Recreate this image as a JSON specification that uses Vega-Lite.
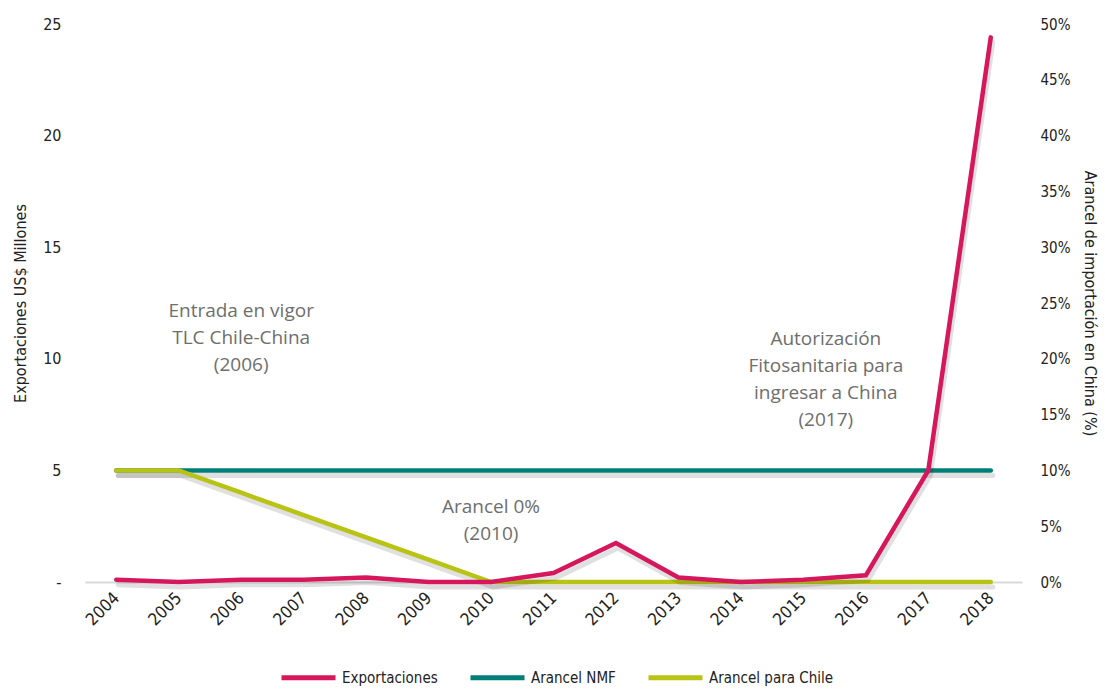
{
  "$schema": "https://vega.github.io/schema/vega-lite/v6.json",
  "width": 937,
  "height": 558,
  "autosize": {"type": "none"},
  "padding": {"left": 85, "top": 24, "right": 83, "bottom": 108},
  "background": "white",
  "config": {
    "view": {"stroke": null},
    "font": "DejaVu Sans Condensed",
    "axis": {"grid": false, "ticks": false, "domain": false, "labelColor": "#222", "titleColor": "#222", "labelFont": "DejaVu Sans Condensed", "titleFont": "DejaVu Sans Condensed", "titleFontWeight": "normal"}
  },
  "datasets": {
    "exp": [
      {"year": "2004", "serie": "Exportaciones", "value": 0.1},
      {"year": "2005", "serie": "Exportaciones", "value": 0.0},
      {"year": "2006", "serie": "Exportaciones", "value": 0.1},
      {"year": "2007", "serie": "Exportaciones", "value": 0.1},
      {"year": "2008", "serie": "Exportaciones", "value": 0.2},
      {"year": "2009", "serie": "Exportaciones", "value": 0.0},
      {"year": "2010", "serie": "Exportaciones", "value": 0.0},
      {"year": "2011", "serie": "Exportaciones", "value": 0.4},
      {"year": "2012", "serie": "Exportaciones", "value": 1.75},
      {"year": "2013", "serie": "Exportaciones", "value": 0.2},
      {"year": "2014", "serie": "Exportaciones", "value": 0.0},
      {"year": "2015", "serie": "Exportaciones", "value": 0.1},
      {"year": "2016", "serie": "Exportaciones", "value": 0.3},
      {"year": "2017", "serie": "Exportaciones", "value": 5.0},
      {"year": "2018", "serie": "Exportaciones", "value": 24.4}
    ],
    "tar": [
      {"year": "2004", "serie": "Arancel NMF", "value": 10},
      {"year": "2005", "serie": "Arancel NMF", "value": 10},
      {"year": "2006", "serie": "Arancel NMF", "value": 10},
      {"year": "2007", "serie": "Arancel NMF", "value": 10},
      {"year": "2008", "serie": "Arancel NMF", "value": 10},
      {"year": "2009", "serie": "Arancel NMF", "value": 10},
      {"year": "2010", "serie": "Arancel NMF", "value": 10},
      {"year": "2011", "serie": "Arancel NMF", "value": 10},
      {"year": "2012", "serie": "Arancel NMF", "value": 10},
      {"year": "2013", "serie": "Arancel NMF", "value": 10},
      {"year": "2014", "serie": "Arancel NMF", "value": 10},
      {"year": "2015", "serie": "Arancel NMF", "value": 10},
      {"year": "2016", "serie": "Arancel NMF", "value": 10},
      {"year": "2017", "serie": "Arancel NMF", "value": 10},
      {"year": "2018", "serie": "Arancel NMF", "value": 10},
      {"year": "2004", "serie": "Arancel para Chile", "value": 10},
      {"year": "2005", "serie": "Arancel para Chile", "value": 10},
      {"year": "2006", "serie": "Arancel para Chile", "value": 8},
      {"year": "2007", "serie": "Arancel para Chile", "value": 6},
      {"year": "2008", "serie": "Arancel para Chile", "value": 4},
      {"year": "2009", "serie": "Arancel para Chile", "value": 2},
      {"year": "2010", "serie": "Arancel para Chile", "value": 0},
      {"year": "2011", "serie": "Arancel para Chile", "value": 0},
      {"year": "2012", "serie": "Arancel para Chile", "value": 0},
      {"year": "2013", "serie": "Arancel para Chile", "value": 0},
      {"year": "2014", "serie": "Arancel para Chile", "value": 0},
      {"year": "2015", "serie": "Arancel para Chile", "value": 0},
      {"year": "2016", "serie": "Arancel para Chile", "value": 0},
      {"year": "2017", "serie": "Arancel para Chile", "value": 0},
      {"year": "2018", "serie": "Arancel para Chile", "value": 0}
    ],
    "notes": [
      {"year": "2006", "value": 12.14, "label": ["Entrada en vigor", "TLC Chile-China", "(2006)"], "shift": 0},
      {"year": "2010", "value": 3.36, "label": ["Arancel 0%", "(2010)"], "shift": 0},
      {"year": "2016", "value": 10.89, "label": ["Autorización", "Fitosanitaria para", "ingresar a China", "(2017)"], "shift": 1}
    ]
  },
  "encoding": {
    "x": {
      "field": "year", "type": "ordinal",
      "scale": {"type": "point", "padding": 0.5},
      "axis": {"title": null, "labelAngle": -45, "labelAlign": "right", "labelBaseline": "middle", "labelFontSize": 17, "labelPadding": 13, "domain": true, "domainColor": "#d9d9d9", "domainWidth": 2}
    }
  },
  "layer": [
    {
      "layer": [
        {
          "data": {"name": "tar"},
          "mark": {"type": "line", "strokeWidth": 5, "color": "#000", "opacity": 0.12, "yOffset": 5, "xOffset": 2, "strokeCap": "round"},
          "encoding": {
            "y": {
              "field": "value", "type": "quantitative",
              "scale": {"domain": [0, 50], "nice": false},
              "axis": {"orient": "right", "values": [0, 5, 10, 15, 20, 25, 30, 35, 40, 45, 50], "labelExpr": "datum.value + '%'", "labelFontSize": 15, "labelPadding": 18, "title": "Arancel de importación  en China  (%)", "titleFontSize": 16, "titlePadding": 12}
            },
            "detail": {"field": "serie"}
          }
        },
        {
          "data": {"name": "tar"},
          "mark": {"type": "line", "strokeWidth": 4.5, "strokeCap": "round"},
          "encoding": {
            "y": {
              "field": "value", "type": "quantitative",
              "scale": {"domain": [0, 50], "nice": false},
              "axis": {"orient": "right", "values": [0, 5, 10, 15, 20, 25, 30, 35, 40, 45, 50], "labelExpr": "datum.value + '%'", "labelFontSize": 15, "labelPadding": 18, "title": "Arancel de importación  en China  (%)", "titleFontSize": 16, "titlePadding": 12}
            },
            "color": {
              "field": "serie", "type": "nominal",
              "scale": {"domain": ["Exportaciones", "Arancel NMF", "Arancel para Chile"], "range": ["#d6175c", "#007f78", "#b8c316"]},
              "legend": {"title": null, "orient": "none", "legendX": 194, "legendY": 624, "direction": "horizontal", "symbolType": "stroke", "symbolSize": 2916, "symbolStrokeWidth": 5, "labelFontSize": 15, "labelColor": "#222", "labelFont": "DejaVu Sans Condensed", "columnPadding": 22, "labelOffset": 4}
            }
          }
        }
      ]
    },
    {
      "layer": [
        {
          "data": {"name": "exp"},
          "mark": {"type": "line", "strokeWidth": 5, "color": "#000", "opacity": 0.12, "yOffset": 5, "xOffset": 2, "strokeCap": "round"},
          "encoding": {
            "y": {
              "field": "value", "type": "quantitative",
              "scale": {"domain": [0, 25], "nice": false},
              "axis": {"orient": "left", "values": [0, 5, 10, 15, 20, 25], "labelExpr": "datum.value == 0 ? '-' : datum.label", "labelFontSize": 16, "labelPadding": 24, "title": "Exportaciones  US$ Millones", "titleFontSize": 16, "titlePadding": 14}
            }
          }
        },
        {
          "data": {"name": "exp"},
          "mark": {"type": "line", "strokeWidth": 4.5, "strokeCap": "round"},
          "encoding": {
            "y": {
              "field": "value", "type": "quantitative",
              "scale": {"domain": [0, 25], "nice": false},
              "axis": {"orient": "left", "values": [0, 5, 10, 15, 20, 25], "labelExpr": "datum.value == 0 ? '-' : datum.label", "labelFontSize": 16, "labelPadding": 24, "title": "Exportaciones  US$ Millones", "titleFontSize": 16, "titlePadding": 14}
            },
            "color": {"field": "serie", "type": "nominal"}
          }
        },
        {
          "data": {"name": "notes"},
          "transform": [{"filter": "datum.shift == 0"}],
          "mark": {"type": "text", "font": "Open Sans", "fontSize": 19, "color": "#6e6e6e", "lineHeight": 27, "align": "center", "baseline": "middle"},
          "encoding": {
            "y": {"field": "value", "type": "quantitative"},
            "text": {"field": "label"}
          }
        },
        {
          "data": {"name": "notes"},
          "transform": [{"filter": "datum.shift == 1"}],
          "mark": {"type": "text", "font": "Open Sans", "fontSize": 19, "color": "#6e6e6e", "lineHeight": 27, "align": "center", "baseline": "middle", "dx": -40},
          "encoding": {
            "y": {"field": "value", "type": "quantitative"},
            "text": {"field": "label"}
          }
        }
      ]
    }
  ],
  "resolve": {"scale": {"y": "independent"}}
}
